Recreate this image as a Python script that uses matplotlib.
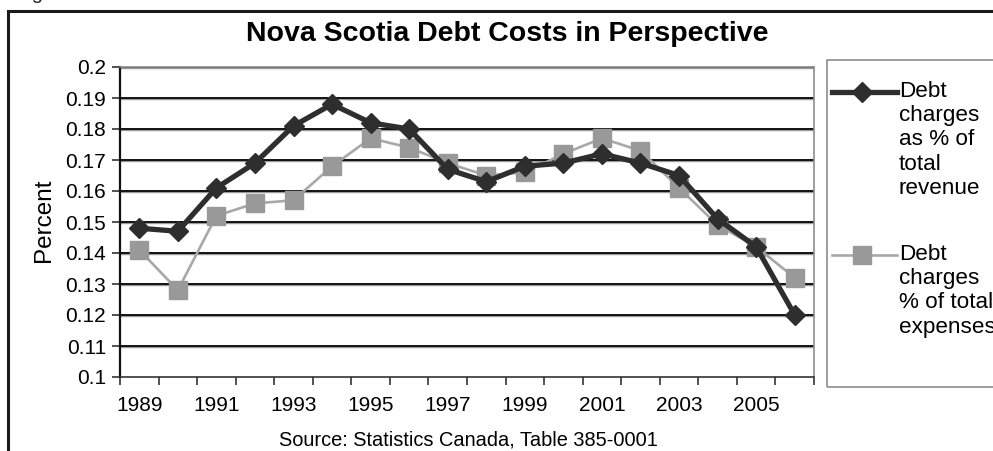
import matplotlib
matplotlib.use("Agg")
import matplotlib.pyplot as plt
from matplotlib.patches import Rectangle
from matplotlib.lines import Line2D
from matplotlib.ticker import FixedLocator, FuncFormatter

plt.rcParams['font.family'] = ['Liberation Sans', 'DejaVu Sans']

years = list(range(1989, 2007))
revenue_share = [0.148, 0.147, 0.161, 0.169, 0.181, 0.188, 0.182, 0.180, 0.167,
                 0.163, 0.168, 0.169, 0.172, 0.169, 0.165, 0.151, 0.142, 0.120]
expense_share = [0.141, 0.128, 0.152, 0.156, 0.157, 0.168, 0.177, 0.174, 0.169,
                 0.165, 0.166, 0.172, 0.177, 0.173, 0.161, 0.149, 0.142, 0.132]
y_ticks = [0.1, 0.11, 0.12, 0.13, 0.14, 0.15, 0.16, 0.17, 0.18, 0.19, 0.2]
title = "Nova Scotia Debt Costs in Perspective"
source = "Source: Statistics Canada, Table 385-0001"
label_rev = "Debt\ncharges\nas % of\ntotal\nrevenue"
label_exp = "Debt\ncharges\n% of total\nexpenses"

REV_COLOR = '#2e2e2e'
EXP_COLOR = '#999999'
EXP_LINE = '#a8a8a8'

W, H = 993, 451
fig = plt.figure(figsize=(W / 100, H / 100), dpi=100)

def fx(px):
    return px / W

def fy(py):
    return 1 - py / H

# outer chart frame
fig.patches.append(Rectangle((fx(8), fy(H + 20)), fx(1100), fy(11) - fy(H + 20),
                             transform=fig.transFigure, fill=False,
                             edgecolor='#1a1a1a', linewidth=2.2))
fig.text(fx(15), fy(-1), "Figure", fontsize=14.5, va='baseline', ha='left', color='#222')

ax = fig.add_axes([fx(120), fy(377), fx(814) - fx(120), fy(67) - fy(377)])
n = len(years)
xs = [i + 0.5 for i in range(n)]
ax.set_xlim(0, n)
ax.set_ylim(0.1, 0.2)

for v in y_ticks[1:]:
    ax.axhline(v - 0.0004, color='#9a9a9a', linewidth=1.0, zorder=1)
    ax.axhline(v, color='#111111', linewidth=1.4, zorder=1.1)

ax.plot(xs, expense_share, color=EXP_LINE, linewidth=1.9, marker='s',
        markersize=13, markerfacecolor=EXP_COLOR, markeredgecolor=EXP_COLOR, zorder=3)
ax.plot(xs, revenue_share, color=REV_COLOR, linewidth=3.8, marker='D',
        markersize=10.5, markerfacecolor=REV_COLOR, markeredgecolor=REV_COLOR, zorder=4)

ax.xaxis.set_major_locator(FixedLocator(range(0, n + 1)))
ax.xaxis.set_major_formatter(FuncFormatter(lambda v, p: ""))
ax.xaxis.set_minor_locator(FixedLocator([x for x in xs[::2]]))
ax.xaxis.set_minor_formatter(FuncFormatter(lambda v, p: str(years[int(v)])))
ax.tick_params(axis='x', which='major', direction='out', length=6, width=1.2, color='#333')
ax.tick_params(axis='x', which='minor', length=0, pad=14, labelsize=15)

ax.set_yticks(y_ticks)
ax.yaxis.set_major_formatter(FuncFormatter(lambda v, p: f"{v:g}"))
ax.tick_params(axis='y', direction='out', length=6, width=1.2, color='#333',
               labelsize=15, pad=4)

ax.spines['left'].set_color('#111')
ax.spines['left'].set_linewidth(1.6)
ax.spines['bottom'].set_color('#333')
ax.spines['bottom'].set_linewidth(1.2)
ax.spines['right'].set_color('#8c8c8c')
ax.spines['right'].set_linewidth(1.2)
ax.spines['top'].set_color('#8c8c8c')
ax.spines['top'].set_linewidth(1.2)

fig.text(fx(507), fy(34), title, fontsize=20.5, fontweight='bold', ha='center', va='center')
fig.text(fx(44), fy(220), "Percent", fontsize=17.5, rotation=90, ha='center', va='center')
fig.text(fx(468), fy(440), source, fontsize=14.4, ha='center', va='center')

# legend box
fig.patches.append(Rectangle((fx(827), fy(387)), fx(300), fy(60) - fy(387),
                             transform=fig.transFigure, fill=False,
                             edgecolor='#8c8c8c', linewidth=1.2))
fig.lines.append(Line2D([fx(832), fx(897)], [fy(92), fy(92)], transform=fig.transFigure,
                        color=REV_COLOR, linewidth=3.8))
fig.lines.append(Line2D([fx(862)], [fy(92)], transform=fig.transFigure, marker='D',
                        markersize=10.5, color=REV_COLOR, linestyle='none'))
fig.text(fx(899), fy(81), label_rev, fontsize=16.2, ha='left', va='top', linespacing=1.2)
fig.lines.append(Line2D([fx(832), fx(897)], [fy(255), fy(255)], transform=fig.transFigure,
                        color=EXP_LINE, linewidth=1.9))
fig.lines.append(Line2D([fx(862)], [fy(255)], transform=fig.transFigure, marker='s',
                        markersize=13, color=EXP_COLOR, linestyle='none'))
fig.text(fx(899), fy(244), label_exp, fontsize=16.2, ha='left', va='top', linespacing=1.2)

fig.savefig("out.png", dpi=100)
